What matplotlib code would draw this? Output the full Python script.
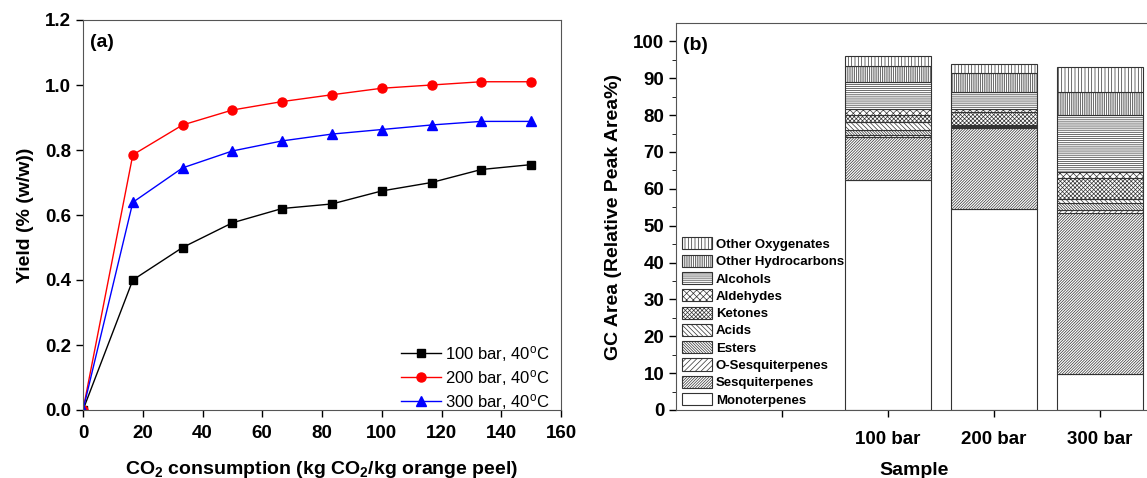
import matplotlib
matplotlib.use("Agg")
import matplotlib.pyplot as plt
import numpy as np

plt.rcParams["font.family"] = ["Liberation Sans", "DejaVu Sans"]
plt.rcParams["mathtext.default"] = "regular"
plt.rcParams["hatch.linewidth"] = 0.5
plt.rcParams["hatch.color"] = "#6a6a6a"

# ---- (a) yield curves ----
co2 = [0, 16.67, 33.33, 50, 66.67, 83.33, 100, 116.67, 133.33, 150]
yield_100 = [0, 0.40, 0.50, 0.576, 0.62, 0.634, 0.674, 0.70, 0.74, 0.755]
yield_200 = [0, 0.785, 0.877, 0.923, 0.949, 0.97, 0.99, 1.0, 1.01, 1.01]
yield_300 = [0, 0.639, 0.745, 0.797, 0.828, 0.849, 0.863, 0.877, 0.888, 0.888]

# ---- (b) GC composition ----
samples = ["", "100 bar", "200 bar", "300 bar"]
classes = ["Monoterpenes", "Sesquiterpenes", "O-Sesquiterpenes", "Esters", "Acids",
           "Ketones", "Aldehydes", "Alcohols", "Other Hydrocarbons", "Other Oxygenates"]
gc_100 = [62.4, 11.8, 0.4, 1.4, 2.2, 1.8, 1.8, 7.3, 4.2, 2.8]
gc_200 = [54.5, 22.0, 0.2, 0.3, 0.3, 3.6, 0.9, 4.6, 4.9, 2.6]
gc_300 = [9.8, 43.6, 0.9, 1.8, 1.1, 5.7, 1.8, 15.3, 6.4, 6.7]
hatches = ["", "/" * 12, "/" * 6, "\\" * 12, "\\" * 7, "x" * 8, "x" * 5, "-" * 8, "|" * 9, "|" * 5]

W, H = 1147, 478
fig = plt.figure(figsize=(W / 100, H / 100), dpi=100)

# ----------------------------
# Panel (a)
# ----------------------------
ax1 = fig.add_axes([83 / W, 68 / H, 478 / W, 390 / H])
ax1.plot(co2, yield_100, color="black", marker="s", ms=6, lw=1, label="100 bar, 40$^o$C")
ax1.plot(co2, yield_200, color="red", marker="o", ms=6.5, lw=1, label="200 bar, 40$^o$C")
ax1.plot(co2, yield_300, color="blue", marker="^", ms=7, lw=1, label="300 bar, 40$^o$C")
ax1.set_xlim(0, 160)
ax1.set_ylim(0, 1.2)
ax1.set_xticks(np.arange(0, 161, 20))
ax1.set_yticks(np.arange(0, 1.21, 0.2))
ax1.yaxis.set_major_formatter(matplotlib.ticker.FormatStrFormatter("%.1f"))
ax1.tick_params(direction="out", length=5, labelsize=13.5, width=1)
ax1.tick_params(axis="x", pad=6)
for lab in ax1.get_xticklabels() + ax1.get_yticklabels():
    lab.set_fontweight("bold")
ax1.set_xlabel("CO$_2$ consumption (kg CO$_2$/kg orange peel)", fontsize=14, fontweight="bold", labelpad=12)
ax1.set_ylabel("Yield (% (w/w))", fontsize=14, fontweight="bold", labelpad=8)
ax1.text(0.015, 0.965, "(a)", transform=ax1.transAxes, fontsize=14, fontweight="bold", va="top")
ax1.legend(loc="lower right", bbox_to_anchor=(1.0, -0.035), frameon=False, fontsize=12,
           handlelength=2.4, handletextpad=0.2, labelspacing=0.25, borderaxespad=0.3)
for s in ax1.spines.values():
    s.set_color("#555555")

# ----------------------------
# Panel (b)
# ----------------------------
ax2 = fig.add_axes([676 / W, 68 / H, 477 / W, 387 / H])
pos = [2, 3, 4]
data = np.array([gc_100, gc_200, gc_300])
bottom = np.zeros(3)
handles = []
for i, name in enumerate(classes):
    b = ax2.bar(pos, data[:, i], 0.81, bottom=bottom, color="white", edgecolor="#333333",
                hatch=hatches[i], linewidth=0.8, label=name)
    handles.append(b)
    bottom += data[:, i]
ax2.set_xlim(0, 4.5)
ax2.set_ylim(0, 105)
ax2.set_xticks([1, 2, 3, 4])
ax2.set_xticklabels(samples)
ax2.set_yticks(np.arange(0, 101, 10))
ax2.set_yticks(np.arange(5, 101, 10), minor=True)
ax2.tick_params(direction="out", length=5, labelsize=13.5, width=1)
ax2.tick_params(axis="x", pad=10)
ax2.tick_params(which="minor", direction="out", length=3)
for lab in ax2.get_xticklabels() + ax2.get_yticklabels():
    lab.set_fontweight("bold")
ax2.set_xlabel("Sample", fontsize=14, fontweight="bold", labelpad=10)
ax2.set_ylabel("GC Area (Relative Peak Area%)", fontsize=14, fontweight="bold", labelpad=8)
ax2.text(0.015, 0.965, "(b)", transform=ax2.transAxes, fontsize=14, fontweight="bold", va="top")
ax2.legend(handles[::-1], classes[::-1], loc="lower left", bbox_to_anchor=(-0.005, -0.012),
           frameon=False, prop={"size": 9.5, "weight": "bold"}, handlelength=2.3,
           handleheight=1.05, handletextpad=0.3, labelspacing=0.28, borderaxespad=0.2)
for s in ax2.spines.values():
    s.set_color("#555555")

fig.savefig("out.png", dpi=100)
